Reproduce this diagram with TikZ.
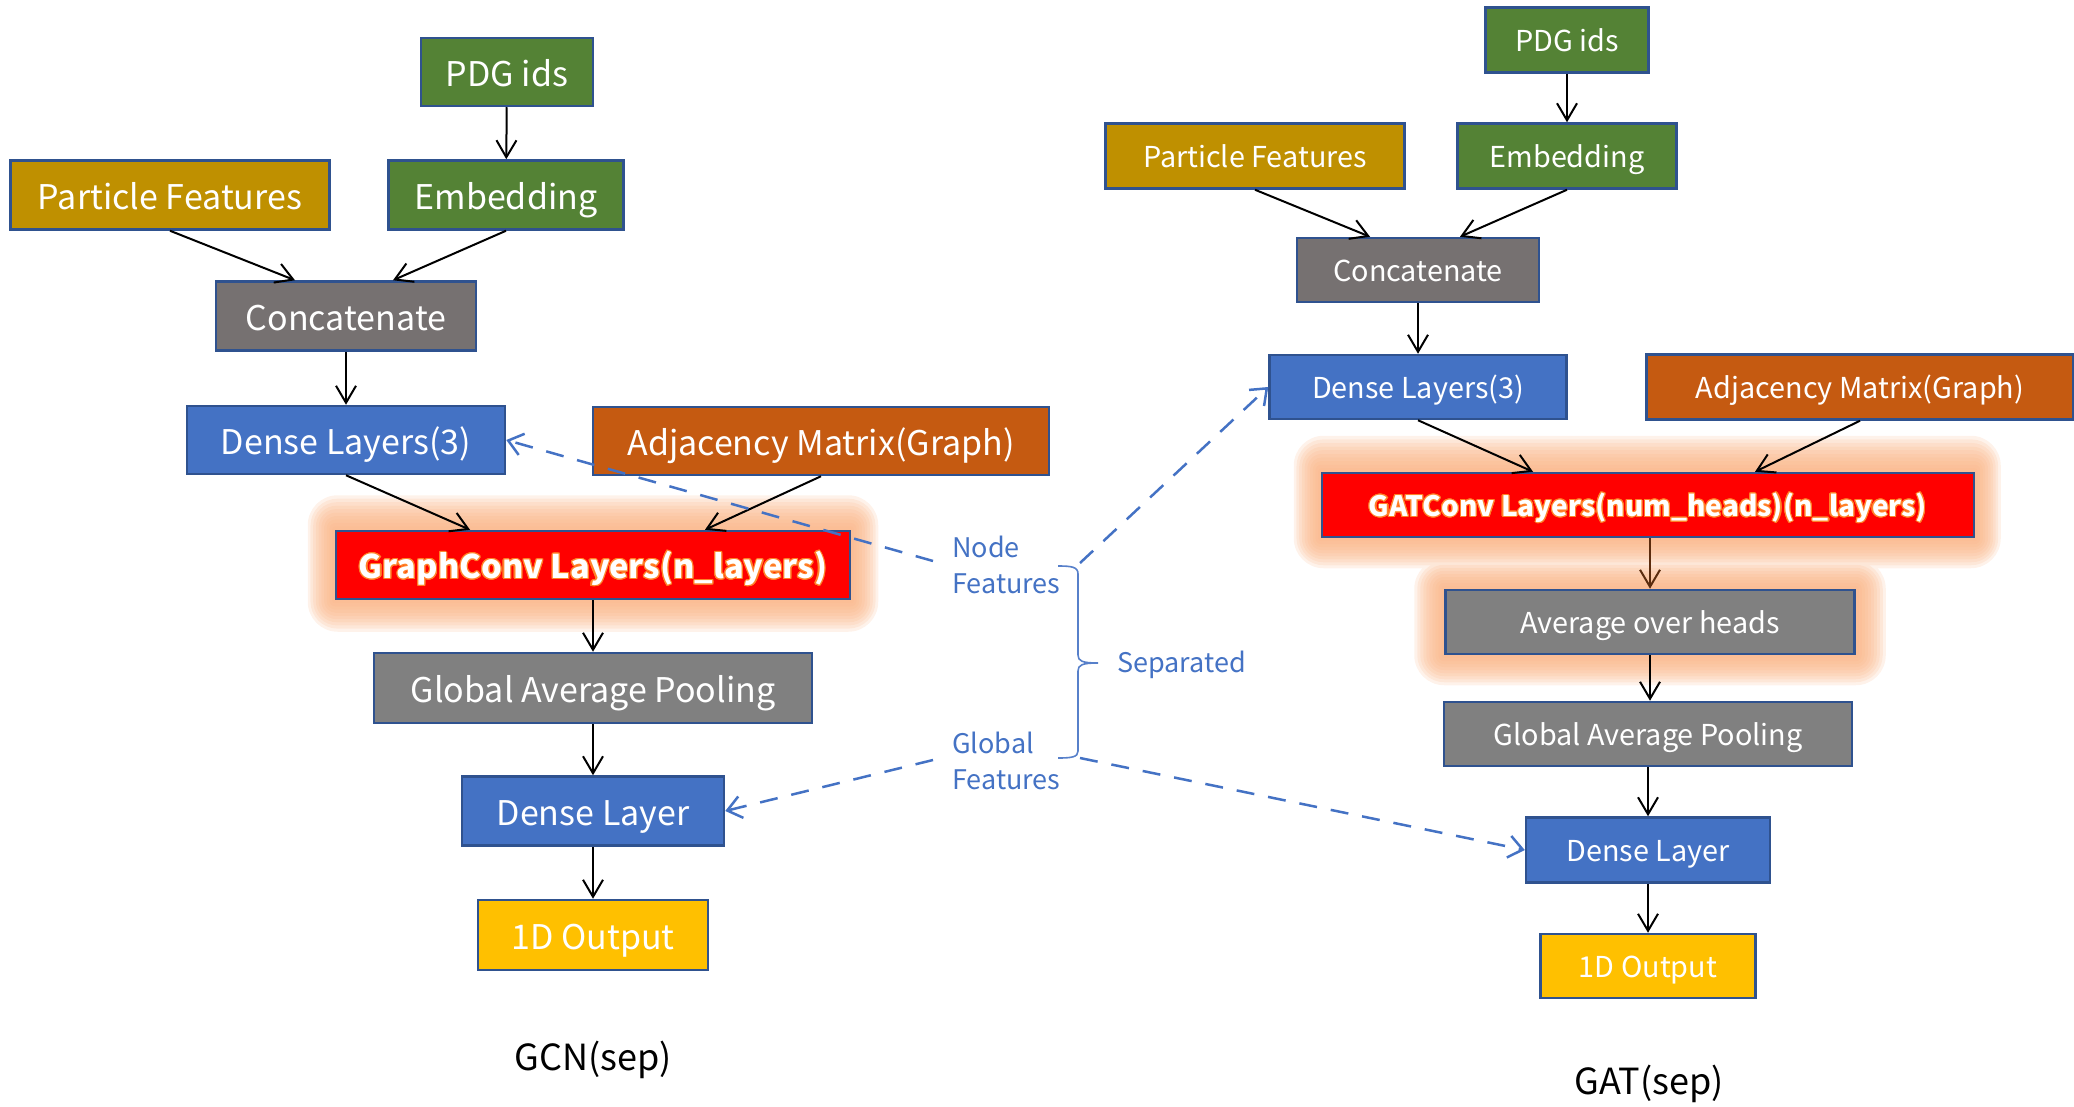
\documentclass[tikz,border=0pt]{standalone}
\usepackage{fontspec}
\setmainfont{Noto Sans CJK SC}
\usepackage{contour}
\contourlength{1.1pt}
\usetikzlibrary{arrows.meta,backgrounds}
\definecolor{bgreen}{HTML}{548235}
\definecolor{bgold}{HTML}{BF9000}
\definecolor{bcat}{HTML}{767171}
\definecolor{bblue}{HTML}{4472C4}
\definecolor{badj}{HTML}{C55A11}
\definecolor{bred}{HTML}{FF0000}
\definecolor{bgray}{HTML}{808080}
\definecolor{byel}{HTML}{FFC000}
\definecolor{bedge}{HTML}{2F528F}
\definecolor{glowc}{RGB}{250,178,130}
\definecolor{halo}{RGB}{255,130,40}
\definecolor{brownarr}{HTML}{5B2C0E}
\newcommand\szL{\fontsize{34}{40}\selectfont}
\newcommand\szR{\fontsize{28.8}{34}\selectfont}
\newcommand\szLb{\fontsize{32.6}{38}\selectfont\bfseries}
\newcommand\szRb{\fontsize{28.1}{34}\selectfont\bfseries}
\newcommand\szB{\fontsize{27}{36}\selectfont}
\newcommand\szC{\fontsize{36}{40}\selectfont}
\tikzset{
  box/.style={draw=bedge, line width=2.5pt, text=white, inner sep=0pt, anchor=center, text depth=0pt},
  boxL/.style={box, font=\szL, text height=28.5pt},
  boxR/.style={box, font=\szR, text height=23.5pt},
  boxLb/.style={box, font=\szLb, text height=27.5pt},
  boxRb/.style={box, font=\szRb, text height=23pt},
  arr/.style={draw=#1, line width=2pt, -{Straight Barb[length=17pt,width=20pt]}},
  arr/.default=black,
  dasharr/.style={draw=bblue, line width=2.5pt, dash pattern=on 18pt off 14pt,
    -{Straight Barb[length=14pt,width=22pt]}},
  lbl/.style={text=bblue, inner sep=0pt, align=left, anchor=west, font=\szB},
  glowlayer/.style={fill=glowc, opacity=0.17}
}
\begin{document}
\begin{tikzpicture}[x=1pt,y=-1pt]
\useasboundingbox (0,0) rectangle (2074,1107);
% ---------- left: GCN(sep) ----------
\node[boxL, fill=bgreen, minimum width=172pt, minimum height=68pt] (pdgL) at (507,72) {PDG ids};
\node[boxL, fill=bgold, minimum width=319pt, minimum height=69pt] (pfL) at (170,195) {Particle Features};
\node[boxL, fill=bgreen, minimum width=235pt, minimum height=69pt] (embL) at (506,195) {Embedding};
\node[boxL, fill=bcat, minimum width=260pt, minimum height=69pt] (catL) at (346,316) {Concatenate};
\node[boxL, fill=bblue, minimum width=318pt, minimum height=68pt] (dl3L) at (346,440) {Dense Layers(3)};
\node[boxL, fill=badj, minimum width=456pt, minimum height=68pt] (adjL) at (821,441) {Adjacency Matrix(Graph)};
\node[boxLb, fill=bred, minimum width=514pt, minimum height=68pt] (gcL) at (593,565) {\contour{halo}{GraphConv Layers(n\_layers)}};
\node[boxL, fill=bgray, minimum width=438pt, minimum height=70pt] (gapL) at (593,688) {Global Average Pooling};
\node[boxL, fill=bblue, minimum width=262pt, minimum height=69pt] (dlL) at (593,811) {Dense Layer};
\node[boxL, fill=byel, minimum width=230pt, minimum height=70pt] (outL) at (593,935) {1D Output};
\node[inner sep=0pt, font=\szC] (capL) at (593,1060) {GCN(sep)};
% ---------- right: GAT(sep) ----------
\node[boxR, fill=bgreen, minimum width=163pt, minimum height=65pt] (pdgR) at (1567,40) {PDG ids};
\node[boxR, fill=bgold, minimum width=299pt, minimum height=65pt] (pfR) at (1255,156) {Particle Features};
\node[boxR, fill=bgreen, minimum width=219pt, minimum height=65pt] (embR) at (1567,156) {Embedding};
\node[boxR, fill=bcat, minimum width=242pt, minimum height=64pt] (catR) at (1418,270) {Concatenate};
\node[boxR, fill=bblue, minimum width=297pt, minimum height=64pt] (dl3R) at (1418,387) {Dense Layers(3)};
\node[boxR, fill=badj, minimum width=427pt, minimum height=65pt] (adjR) at (1860,387) {Adjacency Matrix(Graph)};
\node[boxRb, fill=bred, minimum width=652pt, minimum height=64pt] (gatR) at (1648,505) {\contour{halo}{GATConv Layers(num\_heads)(n\_layers)}};
\node[boxR, fill=bgray, minimum width=409pt, minimum height=64pt] (avgR) at (1650,622) {Average over heads};
\node[boxR, fill=bgray, minimum width=408pt, minimum height=64pt] (gapR) at (1648,734) {Global Average Pooling};
\node[boxR, fill=bblue, minimum width=244pt, minimum height=65pt] (dlR) at (1648,850) {Dense Layer};
\node[boxR, fill=byel, minimum width=215pt, minimum height=64pt] (outR) at (1648,966) {1D Output};
\node[inner sep=0pt, font=\szC] (capR) at (1649,1084) {GAT(sep)};
% ---------- middle labels ----------
\node[lbl] (nf) at (952,565) {Node\\Features};
\node[lbl] (gf) at (952,761) {Global\\Features};
\node[lbl] (sep) at (1117,665) {Separated};
\coordinate (nfA) at (933,561);
\coordinate (gfA) at (933,760);
\coordinate (brT) at (1080,563);
\coordinate (brB) at (1080,758);
\draw[bblue!90!white, line width=1.6pt]
  (1058,566) .. controls (1072,566) and (1078,567) .. (1078,574) -- (1078,655)
  .. controls (1078,661) and (1082,663) .. (1098,663)
  .. controls (1082,663) and (1078,665) .. (1078,671) -- (1078,751)
  .. controls (1078,757) and (1072,758) .. (1058,758);
% ---------- glows ----------
\begin{pgfonlayer}{background}
\foreach \s in {3,6,...,30} {
  \fill[glowlayer, rounded corners=\s pt]
    ([shift={(-0.9*\s,-1.15*\s)}]gcL.north west) rectangle ([shift={(0.9*\s,1.05*\s)}]gcL.south east);
  \fill[glowlayer, rounded corners=\s pt]
    ([shift={(-0.9*\s,-1.2*\s)}]gatR.north west) rectangle ([shift={(0.85*\s,1.0*\s)}]gatR.south east)
    ([shift={(-\s,-\s)}]avgR.north west) rectangle ([shift={(\s,\s)}]avgR.south east);
}
\end{pgfonlayer}
% ---------- arrows left ----------
\draw[arr] (pdgL) -- (embL);
\draw[arr] (pfL.south) -- ([xshift=-51pt]catL.north);
\draw[arr] (embL.south) -- ([xshift=47pt]catL.north);
\draw[arr] (catL) -- (dl3L);
\draw[arr] (dl3L.south) -- ([xshift=-123pt]gcL.north);
\draw[arr] (adjL.south) -- ([xshift=112pt]gcL.north);
\draw[arr] (gcL) -- (gapL);
\draw[arr] (gapL) -- (dlL);
\draw[arr] (dlL) -- (outL);
% ---------- arrows right ----------
\draw[arr] (pdgR) -- (embR);
\draw[arr] (pfR.south) -- ([xshift=-48pt]catR.north);
\draw[arr] (embR.south) -- ([xshift=42pt]catR.north);
\draw[arr] (catR) -- (dl3R);
\draw[arr] (dl3R.south) -- ([xshift=-115pt]gatR.north);
\draw[arr] (adjR.south) -- ([xshift=107pt]gatR.north);
\draw[arr=brownarr] (gatR.south -| avgR.north) -- (avgR.north);
\draw[arr] (avgR.south) -- (avgR.south |- gapR.north);
\draw[arr] (gapR) -- (dlR);
\draw[arr] (dlR) -- (outR);
% ---------- dashed ----------
\draw[dasharr] (nfA) -- (dl3L.east);
\draw[dasharr] (brT) -- (dl3R.west);
\draw[dasharr] (gfA) -- (dlL.east);
\draw[dasharr] (brB) -- (dlR.west);
\end{tikzpicture}
\end{document}
